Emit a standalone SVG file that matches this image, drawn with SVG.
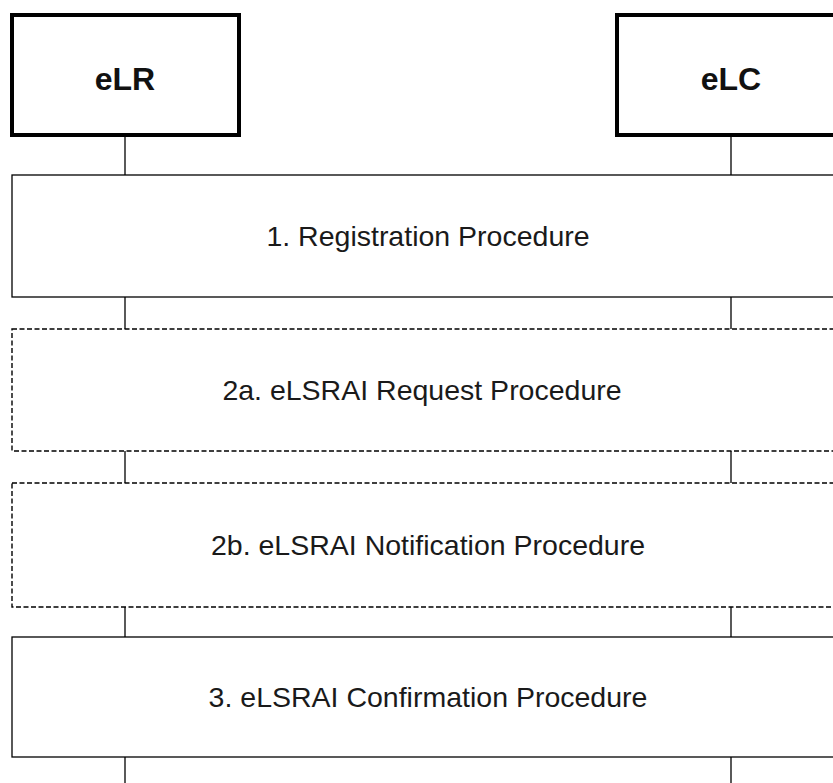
<svg xmlns="http://www.w3.org/2000/svg" width="833" height="783" viewBox="0 0 833 783">
<style>
.ent{fill:#fff;stroke:#000;stroke-width:4}
.proc{fill:#fff;stroke:#000;stroke-width:1.3}
.opt{fill:#fff;stroke:#000;stroke-width:1.4;stroke-dasharray:5 2.5}
.life{stroke:#000;stroke-width:1.3;fill:none}
.et{font-family:"Liberation Sans",Arial,sans-serif;font-weight:bold;font-size:32px;fill:#111;text-anchor:middle}
.pt{font-family:"Liberation Sans",Arial,sans-serif;font-size:28.5px;fill:#1a1a1a;text-anchor:middle}
</style>
<rect width="833" height="783" fill="#fff"/>
<g id="connectors">
<line class="life" x1="125" y1="137" x2="125" y2="175"/>
<line class="life" x1="731" y1="137" x2="731" y2="175"/>
<line class="life" x1="125" y1="297" x2="125" y2="329"/>
<line class="life" x1="731" y1="297" x2="731" y2="329"/>
<line class="life" x1="125" y1="451" x2="125" y2="483"/>
<line class="life" x1="731" y1="451" x2="731" y2="483"/>
<line class="life" x1="125" y1="607" x2="125" y2="637"/>
<line class="life" x1="731" y1="607" x2="731" y2="637"/>
<line class="life" x1="125" y1="757" x2="125" y2="790"/>
<line class="life" x1="731" y1="757" x2="731" y2="790"/>
</g>
<g id="eLR">
<rect class="ent" x="12" y="15" width="227" height="120"/>
<text class="et" x="125" y="90">eLR</text>
</g>
<g id="eLC">
<rect class="ent" x="617" y="15" width="240" height="120"/>
<text class="et" x="731" y="90">eLC</text>
</g>
<g id="step1">
<rect class="proc" x="12" y="175" width="850" height="122"/>
<text class="pt" x="428" y="246">1. Registration Procedure</text>
</g>
<g id="step2a">
<rect class="opt" x="12" y="329" width="850" height="122"/>
<text class="pt" x="422" y="400">2a. eLSRAI Request Procedure</text>
</g>
<g id="step2b">
<rect class="opt" x="12" y="483" width="850" height="124"/>
<text class="pt" x="428" y="555">2b. eLSRAI Notification Procedure</text>
</g>
<g id="step3">
<rect class="proc" x="12" y="637" width="850" height="120"/>
<text class="pt" x="428" y="707">3. eLSRAI Confirmation Procedure</text>
</g>
</svg>
